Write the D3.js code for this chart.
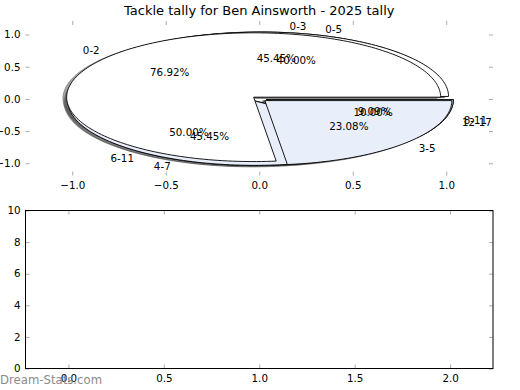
<!DOCTYPE html>
<html>
<head>
<meta charset="utf-8">
<script src="https://cdn.jsdelivr.net/npm/d3@7"></script>
<style>
  body { margin: 0; background: #fff; }
  text { font-family: "DejaVu Sans", sans-serif; }
</style>
</head>
<body>
<svg id="chart" width="520" height="390"></svg>
<script>
// chart data
var title = "Tackle tally for Ben Ainsworth - 2025 tally";
var labelsA = ["0-2", "3-5"];
var valuesA = [10, 3];
var labelsB = ["0-3", "4-7", "8-11"];
var valuesB = [5, 5, 1];
var labelsC = ["0-5", "6-11", "12-17"];
var valuesC = [4, 5, 1];
var sliceColors = ["#ffffff", "#e8eefa", "#d5dff2"];
var explode = 0.04;
var pieTicks = [-1, -0.5, 0, 0.5, 1];
var lowerXTicks = [0, 0.5, 1, 1.5, 2];
var lowerYTicks = [0, 2, 4, 6, 8, 10];
var watermark = "Dream-Stats.com";

var svg = d3.select("#chart");
var fontSize = 10.3;

// top (pie) axes box and bottom (empty) axes box
var top1 = { left: 25.5, right: 493, top: 21, bottom: 175.5 };
var low = { left: 25.5, right: 493, top: 210.5, bottom: 368.5 };

var x = d3.scaleLinear().domain([-1.25, 1.25]).range([top1.left, top1.right]);
var y = d3.scaleLinear().domain([-1.19, 1.21]).range([top1.bottom, top1.top]);

var x2 = d3.scaleLinear().domain([-0.225, 2.225]).range([low.left, low.right]);
var y2 = d3.scaleLinear().domain([0, 10]).range([low.bottom, low.top]);

var pies = [
  { labels: labelsB, values: valuesB },
  { labels: labelsC, values: valuesC },
  { labels: labelsA, values: valuesA }
];

var pie = d3.pie().sort(null).startAngle(0).endAngle(2 * Math.PI);
var line = d3.line().x(function (d) { return x(d[0]); }).y(function (d) { return y(d[1]); });

function wedgePath(cx, cy, a0, a1) {
  var n = Math.max(2, Math.ceil((a1 - a0) / (Math.PI / 120)));
  var pts = [[cx, cy]].concat(d3.range(n + 1).map(function (i) {
    var t = a0 + (a1 - a0) * i / n;
    return [cx + Math.cos(t), cy + Math.sin(t)];
  }));
  return line(pts) + "Z";
}

// angles counter-clockwise from 3 o'clock, like the original
var wedges = [];
pies.forEach(function (p, pi) {
  pie(p.values).forEach(function (a, i) {
    var mid = (a.startAngle + a.endAngle) / 2;
    wedges.push({
      pie: pi, i: i, label: p.labels[i],
      pct: (100 * a.value / d3.sum(p.values)).toFixed(2) + "%",
      a0: a.startAngle, a1: a.endAngle, mid: mid,
      cx: explode * Math.cos(mid), cy: explode * Math.sin(mid)
    });
  });
});

// shadows go under every wedge
svg.append("g").selectAll("path")
  .data(wedges).enter().append("path")
  .attr("d", function (d) { return wedgePath(d.cx - 0.02, d.cy - 0.02, d.a0, d.a1); })
  .attr("fill", "rgb(77,77,77)").attr("fill-opacity", 0.5)
  .attr("stroke", "rgb(77,77,77)").attr("stroke-opacity", 0.5)
  .attr("stroke-width", 0.9);

svg.append("g").selectAll("path")
  .data(wedges).enter().append("path")
  .attr("d", function (d) { return wedgePath(d.cx, d.cy, d.a0, d.a1); })
  .attr("fill", function (d) { return sliceColors[d.i]; })
  .attr("stroke", "#000")
  .attr("stroke-width", 0.9);

// labels and percentages
var txt = svg.append("g").attr("font-size", fontSize);
wedges.forEach(function (d) {
  var lx = d.cx + 1.1 * Math.cos(d.mid), ly = d.cy + 1.1 * Math.sin(d.mid);
  txt.append("text")
    .attr("x", x(lx)).attr("y", y(ly))
    .attr("dominant-baseline", "central")
    .attr("text-anchor", lx > 0 ? "start" : "end")
    .text(d.label);
  txt.append("text")
    .attr("x", x(d.cx + 0.6 * Math.cos(d.mid))).attr("y", y(d.cy + 0.6 * Math.sin(d.mid)))
    .attr("dominant-baseline", "central")
    .attr("text-anchor", "middle")
    .text(d.pct);
});

function styleAxis(g, labels) {
  g.select(".domain").remove();
  g.selectAll(".tick line").attr("stroke", "#aaa").attr("stroke-width", 1);
  g.selectAll("text").attr("font-size", fontSize).attr("font-family", "DejaVu Sans").attr("fill", "#000");
  if (!labels) g.selectAll("text").remove();
  g.attr("font-family", null).attr("font-size", null);
}

var f1 = d3.format(".1f");

// top axes ticks (no frame)
svg.append("g").attr("transform", "translate(0," + top1.bottom + ")")
  .call(d3.axisBottom(x).tickValues(pieTicks).tickSizeInner(-4).tickSizeOuter(0).tickPadding(6).tickFormat(f1))
  .call(styleAxis, true);
svg.append("g").attr("transform", "translate(0," + top1.top + ")")
  .call(d3.axisTop(x).tickValues(pieTicks).tickSizeInner(-4).tickSizeOuter(0))
  .call(styleAxis, false);
svg.append("g").attr("transform", "translate(" + top1.left + ",0)")
  .call(d3.axisLeft(y).tickValues(pieTicks).tickSizeInner(-4).tickSizeOuter(0).tickPadding(5).tickFormat(f1))
  .call(styleAxis, true);
svg.append("g").attr("transform", "translate(" + top1.right + ",0)")
  .call(d3.axisRight(y).tickValues(pieTicks).tickSizeInner(-4).tickSizeOuter(0))
  .call(styleAxis, false);

// bottom axes
svg.append("g").attr("transform", "translate(0," + low.bottom + ")")
  .call(d3.axisBottom(x2).tickValues(lowerXTicks).tickSizeInner(-4).tickSizeOuter(0).tickPadding(6).tickFormat(f1))
  .call(styleAxis, true);
svg.append("g").attr("transform", "translate(0," + low.top + ")")
  .call(d3.axisTop(x2).tickValues(lowerXTicks).tickSizeInner(-4).tickSizeOuter(0))
  .call(styleAxis, false);
svg.append("g").attr("transform", "translate(" + low.left + ",0)")
  .call(d3.axisLeft(y2).tickValues(lowerYTicks).tickSizeInner(-4).tickSizeOuter(0).tickPadding(5).tickFormat(d3.format("d")))
  .call(styleAxis, true);
svg.append("g").attr("transform", "translate(" + low.right + ",0)")
  .call(d3.axisRight(y2).tickValues(lowerYTicks).tickSizeInner(-4).tickSizeOuter(0))
  .call(styleAxis, false);

svg.append("rect")
  .attr("x", low.left).attr("y", low.top)
  .attr("width", low.right - low.left).attr("height", low.bottom - low.top)
  .attr("fill", "none").attr("stroke", "#000").attr("stroke-width", 1);

svg.append("text")
  .attr("x", (top1.left + top1.right) / 2).attr("y", 14.5)
  .attr("text-anchor", "middle").attr("font-size", 13)
  .text(title);

svg.append("text")
  .attr("x", 0).attr("y", 384)
  .attr("font-size", 11.7).attr("fill", "#8c8c8c")
  .text(watermark);
</script>
</body>
</html>
